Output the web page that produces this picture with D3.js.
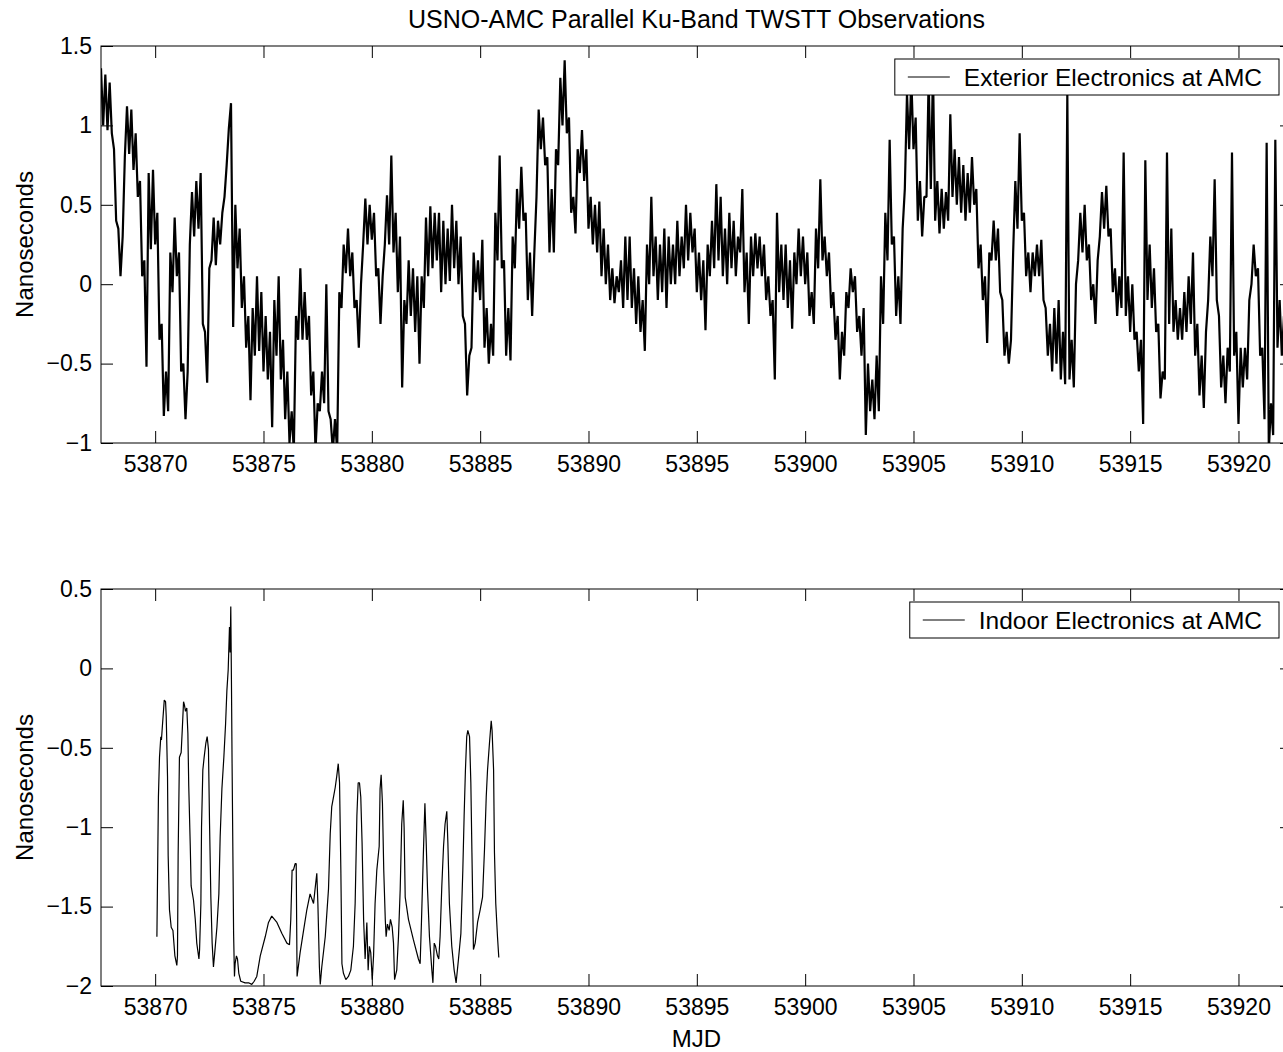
<!DOCTYPE html>
<html>
<head>
<meta charset="utf-8">
<script src="https://cdn.jsdelivr.net/npm/d3@7"></script>
<style>
  body { margin: 0; background: #fff; }
  text { font-family: "Liberation Sans", Arial, Helvetica, sans-serif; fill: #000; }
</style>
</head>
<body>
<div id="chart"></div>
<script>
// Chart data
//================================
var title = "USNO-AMC Parallel Ku-Band TWSTT Observations";
var xLabel = "MJD";
var yLabel = "Nanoseconds";
var xDomain = [53867.5, 53922.47];
var xTicks = [53870, 53875, 53880, 53885, 53890, 53895, 53900, 53905, 53910, 53915, 53920];

var exteriorName = "Exterior Electronics at AMC";
var exteriorDomain = [-1, 1.5];
var exteriorTicks = [-1, -0.5, 0, 0.5, 1, 1.5];
// one row per day, samples every 0.1 day (.0 ... .9)
var exteriorFirstDay = 53867;
var exteriorNs = [
  [null, null, null, null, null, 1.36, 1.00, 1.32, 0.97, 1.27],
  [0.95, 0.85, 0.40, 0.35, 0.05, 0.30, 0.80, 1.12, 0.82, 1.10],
  [0.72, 0.95, 0.55, 0.65, 0.05, 0.15, -0.52, 0.70, 0.22, 0.72],
  [0.25, 0.45, -0.35, -0.25, -0.83, -0.55, -0.80, 0.20, -0.05, 0.42],
  [0.05, 0.20, -0.55, -0.50, -0.85, -0.55, 0.25, 0.58, 0.30, 0.65],
  [0.35, 0.70, -0.25, -0.30, -0.62, 0.10, 0.15, 0.42, 0.12, 0.40],
  [0.25, 0.45, 0.55, 0.75, 0.98, 1.14, -0.27, 0.50, 0.10, 0.35],
  [-0.15, 0.05, -0.40, -0.20, -0.73, -0.15, -0.45, 0.05, -0.42, -0.05],
  [-0.55, -0.20, -0.60, -0.30, -0.90, -0.10, -0.45, 0.05, -0.60, -0.35],
  [-0.85, -0.55, -1.00, -0.80, -1.05, -0.20, -0.35, 0.10, -0.35, -0.05],
  [-0.35, -0.20, -0.70, -0.55, -1.05, -0.75, -0.80, -0.55, -0.75, 0.00],
  [-0.80, -0.85, -1.05, -0.85, -1.05, -0.05, -0.15, 0.25, 0.07, 0.35],
  [0.05, 0.20, -0.15, -0.10, -0.40, 0.00, 0.25, 0.54, 0.25, 0.50],
  [0.28, 0.45, 0.05, 0.10, -0.25, 0.05, 0.25, 0.56, 0.25, 0.81],
  [0.20, 0.45, -0.05, 0.30, -0.65, -0.10, -0.25, 0.15, -0.20, 0.10],
  [-0.30, 0.05, -0.50, 0.05, -0.15, 0.42, 0.05, 0.49, 0.10, 0.45],
  [0.15, 0.45, -0.05, 0.40, 0.00, 0.35, 0.02, 0.50, 0.10, 0.40],
  [0.00, 0.30, -0.20, -0.25, -0.70, -0.45, -0.40, 0.20, -0.05, 0.15],
  [-0.10, 0.28, -0.40, -0.15, -0.50, -0.25, -0.45, 0.45, 0.15, 0.81],
  [0.10, 0.15, -0.45, -0.15, -0.48, 0.30, 0.10, 0.60, 0.35, 0.74],
  [0.40, 0.45, -0.10, 0.20, -0.20, 0.20, 0.55, 1.10, 0.85, 1.05],
  [0.75, 0.80, 0.20, 0.60, 0.20, 0.85, 0.75, 1.30, 1.00, 1.41],
  [0.95, 1.05, 0.45, 0.55, 0.32, 0.85, 0.70, 0.97, 0.65, 0.85],
  [0.35, 0.55, 0.25, 0.50, 0.20, 0.52, 0.05, 0.35, 0.00, 0.25],
  [-0.10, 0.10, -0.12, 0.05, -0.05, 0.15, -0.15, 0.30, -0.10, 0.30],
  [-0.15, 0.10, -0.25, 0.05, -0.30, -0.10, -0.42, 0.25, 0.00, 0.55],
  [0.05, 0.30, -0.10, 0.25, -0.05, 0.35, -0.15, 0.30, 0.00, 0.25],
  [0.00, 0.40, 0.05, 0.30, 0.10, 0.50, 0.15, 0.45, 0.20, 0.35],
  [-0.05, 0.20, -0.10, 0.15, -0.29, 0.25, 0.05, 0.40, 0.10, 0.63],
  [0.15, 0.55, 0.05, 0.35, 0.00, 0.45, 0.10, 0.40, 0.05, 0.30],
  [0.20, 0.60, -0.05, 0.20, -0.25, 0.30, 0.05, 0.32, 0.10, 0.30],
  [0.05, 0.25, -0.10, 0.05, -0.20, -0.10, -0.60, 0.45, -0.05, 0.25],
  [-0.10, 0.25, -0.15, 0.15, -0.28, 0.20, 0.00, 0.35, 0.05, 0.30],
  [0.00, 0.20, -0.20, -0.05, -0.25, 0.35, 0.10, 0.66, 0.15, 0.30],
  [0.05, 0.20, -0.15, -0.05, -0.35, -0.20, -0.60, -0.30, -0.45, -0.05],
  [-0.15, 0.10, -0.05, 0.05, -0.30, -0.20, -0.45, -0.15, -0.95, -0.50],
  [-0.80, -0.60, -0.85, -0.45, -0.80, 0.05, -0.25, 0.45, 0.15, 0.91],
  [0.25, 0.30, -0.20, 0.05, -0.25, 0.35, 0.60, 1.20, 0.85, 1.30],
  [0.85, 1.05, 0.40, 0.65, 0.30, 0.55, 0.55, 1.30, 0.60, 1.35],
  [0.40, 0.65, 0.32, 0.60, 0.35, 0.58, 0.40, 1.07, 0.55, 0.85],
  [0.50, 0.80, 0.45, 0.75, 0.40, 0.70, 0.45, 0.80, 0.50, 0.60],
  [0.10, 0.25, -0.10, 0.05, -0.37, 0.20, 0.15, 0.40, 0.15, 0.35],
  [-0.05, -0.10, -0.45, -0.30, -0.50, -0.35, 0.20, 0.65, 0.35, 0.95],
  [0.40, 0.45, 0.05, 0.20, -0.05, 0.20, 0.05, 0.25, 0.05, 0.28],
  [-0.10, -0.15, -0.45, -0.25, -0.55, -0.15, -0.50, -0.10, -0.60, -0.30],
  [-0.63, 1.20, -0.60, -0.35, -0.65, 0.00, 0.15, 0.45, 0.20, 0.50],
  [0.15, 0.25, -0.10, 0.00, -0.25, 0.15, 0.30, 0.58, 0.35, 0.62],
  [0.30, 0.35, -0.05, 0.10, -0.20, 0.05, -0.15, 0.83, -0.20, 0.05],
  [-0.30, 0.00, -0.35, -0.30, -0.55, -0.35, -0.88, 0.78, -0.10, 0.25],
  [-0.15, 0.10, -0.30, -0.25, -0.72, -0.55, -0.60, 0.83, -0.25, 0.35],
  [-0.30, -0.10, -0.35, -0.15, -0.35, -0.05, -0.30, 0.05, -0.25, 0.20],
  [-0.45, -0.25, -0.70, -0.45, -0.78, -0.30, -0.10, 0.30, 0.05, 0.66],
  [-0.10, -0.20, -0.65, -0.45, -0.75, -0.40, -0.55, 0.83, -0.45, -0.30],
  [-0.88, -0.40, -0.65, -0.40, -0.60, -0.10, 0.00, 0.25, 0.05, 0.10],
  [-0.45, -0.40, -0.85, 0.89, -1.05, -0.75, -0.95, 0.91, -0.40, -0.10],
  [-0.45, -0.20, -0.50, -0.25, -0.40, -0.30, null, null, null, null]
];

var indoorName = "Indoor Electronics at AMC";
var indoorDomain = [-2, 0.5];
var indoorTicks = [-2, -1.5, -1, -0.5, 0, 0.5];
var indoorMjd = [
  53870.08, 53870.11, 53870.15, 53870.20, 53870.26, 53870.29, 53870.34, 53870.42, 53870.48, 53870.51,
  53870.57, 53870.60, 53870.66, 53870.74, 53870.82, 53870.91, 53871.00, 53871.03, 53871.06, 53871.12,
  53871.20, 53871.25, 53871.31, 53871.35, 53871.40, 53871.46, 53871.51, 53871.55, 53871.62, 53871.66,
  53871.77, 53871.85, 53871.92, 53872.02, 53872.05, 53872.11, 53872.14, 53872.20, 53872.26, 53872.34,
  53872.40, 53872.46, 53872.51, 53872.57, 53872.63, 53872.69, 53872.75, 53872.85, 53872.94, 53873.00,
  53873.08, 53873.17, 53873.25, 53873.31, 53873.37, 53873.43, 53873.46, 53873.49, 53873.52, 53873.55,
  53873.62, 53873.66, 53873.69, 53873.75, 53873.80, 53873.86, 53873.95, 53874.15, 53874.31, 53874.46,
  53874.57, 53874.69, 53874.85, 53875.08, 53875.23, 53875.38, 53875.62, 53875.85, 53876.08, 53876.20,
  53876.26, 53876.32, 53876.38, 53876.46, 53876.51, 53876.55, 53876.69, 53876.85, 53877.00, 53877.15,
  53877.31, 53877.38, 53877.46, 53877.51, 53877.58, 53877.62, 53877.69, 53877.85, 53878.00, 53878.08,
  53878.15, 53878.23, 53878.31, 53878.38, 53878.45, 53878.51, 53878.57, 53878.62, 53878.69, 53878.80,
  53878.92, 53879.03, 53879.15, 53879.23, 53879.31, 53879.37, 53879.43, 53879.49, 53879.55, 53879.62,
  53879.69, 53879.77, 53879.83, 53879.89, 53879.95, 53880.02, 53880.08, 53880.15, 53880.23, 53880.34,
  53880.38, 53880.43, 53880.49, 53880.55, 53880.62, 53880.66, 53880.72, 53880.80, 53880.86, 53880.94,
  53881.00, 53881.05, 53881.15, 53881.23, 53881.31, 53881.38, 53881.45, 53881.49, 53881.54, 53881.69,
  53881.92, 53882.15, 53882.23, 53882.29, 53882.38, 53882.45, 53882.51, 53882.57, 53882.66, 53882.77,
  53882.82, 53882.88, 53882.94, 53883.03, 53883.09, 53883.15, 53883.23, 53883.31, 53883.38, 53883.46,
  53883.51, 53883.58, 53883.69, 53883.80, 53883.89, 53884.00, 53884.11, 53884.20, 53884.26, 53884.32,
  53884.38, 53884.43, 53884.51, 53884.57, 53884.62, 53884.69, 53884.77, 53884.88, 53885.00, 53885.11,
  53885.20, 53885.28, 53885.34, 53885.43, 53885.51, 53885.55, 53885.62, 53885.66, 53885.72, 53885.80,
  53885.86
];
var indoorNs = [
  -1.69, -1.31, -0.81, -0.56, -0.43, -0.45, -0.35, -0.20, -0.21, -0.30,
  -0.68, -1.18, -1.52, -1.63, -1.65, -1.81, -1.87, -1.81, -1.18, -0.56,
  -0.53, -0.39, -0.21, -0.23, -0.27, -0.25, -0.41, -0.74, -1.12, -1.37,
  -1.46, -1.58, -1.73, -1.83, -1.77, -1.48, -1.00, -0.64, -0.56, -0.47,
  -0.43, -0.51, -0.98, -1.44, -1.73, -1.88, -1.79, -1.63, -1.42, -1.06,
  -0.76, -0.56, -0.35, -0.14, -0.01, 0.26, 0.10, 0.39, -0.07, -0.60,
  -1.67, -1.94, -1.86, -1.81, -1.83, -1.92, -1.97, -1.98, -1.98, -1.99,
  -1.97, -1.94, -1.81, -1.69, -1.60, -1.56, -1.60, -1.67, -1.73, -1.74,
  -1.58, -1.27, -1.27, -1.23, -1.23, -1.94, -1.79, -1.65, -1.52, -1.42,
  -1.48, -1.39, -1.29, -1.48, -1.88, -1.99, -1.88, -1.69, -1.39, -1.04,
  -0.87, -0.81, -0.75, -0.68, -0.60, -0.72, -1.27, -1.86, -1.92, -1.96,
  -1.94, -1.90, -1.75, -1.48, -0.93, -0.72, -0.72, -0.81, -1.10, -1.58,
  -1.83, -1.60, -1.90, -1.75, -1.79, -1.96, -1.81, -1.48, -1.27, -1.12,
  -0.76, -0.67, -0.85, -1.27, -1.58, -1.69, -1.61, -1.65, -1.58, -1.63,
  -1.73, -1.96, -1.90, -1.69, -1.39, -0.98, -0.83, -1.00, -1.44, -1.58,
  -1.71, -1.83, -1.86, -1.60, -1.16, -0.85, -1.10, -1.39, -1.69, -1.90,
  -1.98, -1.73, -1.75, -1.81, -1.83, -1.69, -1.37, -1.12, -0.98, -0.90,
  -1.10, -1.48, -1.75, -1.90, -1.98, -1.83, -1.67, -1.27, -0.93, -0.64,
  -0.43, -0.39, -0.43, -0.72, -1.16, -1.77, -1.73, -1.60, -1.52, -1.44,
  -1.14, -0.81, -0.64, -0.47, -0.33, -0.39, -0.64, -1.16, -1.48, -1.69,
  -1.82
];

// Set up the chart area
//================================
var svgWidth = 1283;
var svgHeight = 1052;
var plotLeft = 101;
var plotRight = 1292;
var tickLen = 12;

var svg = d3.select("#chart")
  .append("svg")
  .attr("width", svgWidth)
  .attr("height", svgHeight)
  .style("display", "block")
  .style("background", "#fff");

var xScale = d3.scaleLinear()
  .domain(xDomain)
  .range([plotLeft, plotRight]);

var fmt = function(d) { return String(d).replace("-", "\u2212"); };

// exterior rows -> points
var exteriorData = [];
exteriorNs.forEach(function(row, r) {
  row.forEach(function(v, j) {
    if (v !== null) exteriorData.push({ mjd: exteriorFirstDay + r + j / 10, ns: v });
  });
});
var indoorData = indoorMjd.map(function(m, i) { return { mjd: m, ns: indoorNs[i] }; });

function drawPanel(cfg) {
  var yScale = d3.scaleLinear()
    .domain(cfg.domain)
    .range([cfg.bottom, cfg.top]);

  var g = svg.append("g");

  g.append("clipPath")
    .attr("id", cfg.id + "-clip")
    .append("rect")
    .attr("x", plotLeft)
    .attr("y", cfg.top)
    .attr("width", plotRight - plotLeft)
    .attr("height", cfg.bottom - cfg.top);

  // data line
  var line = d3.line()
    .x(function(d) { return xScale(d.mjd); })
    .y(function(d) { return yScale(d.ns); });

  g.append("path")
    .datum(cfg.data)
    .attr("clip-path", "url(#" + cfg.id + "-clip)")
    .attr("fill", "none")
    .attr("stroke", "#000")
    .attr("stroke-width", cfg.strokeWidth)
    .attr("stroke-linejoin", "bevel")
    .attr("d", line);

  // axes: ticks pointing inward on all four sides
  var bottomAxis = d3.axisBottom(xScale).tickValues(xTicks)
    .tickSizeInner(-tickLen).tickSizeOuter(0).tickPadding(13).tickFormat(d3.format("d"));
  var topAxis = d3.axisTop(xScale).tickValues(xTicks)
    .tickSizeInner(-tickLen).tickSizeOuter(0).tickFormat("");
  var leftAxis = d3.axisLeft(yScale).tickValues(cfg.ticks)
    .tickSizeInner(-tickLen).tickSizeOuter(0).tickPadding(9).tickFormat(fmt);
  var rightAxis = d3.axisRight(yScale).tickValues(cfg.ticks)
    .tickSizeInner(-tickLen).tickSizeOuter(0).tickFormat("");

  var axes = [
    g.append("g").attr("transform", "translate(0," + cfg.bottom + ")").call(bottomAxis),
    g.append("g").attr("transform", "translate(0," + cfg.top + ")").call(topAxis),
    g.append("g").attr("transform", "translate(" + plotLeft + ",0)").call(leftAxis),
    g.append("g").attr("transform", "translate(" + plotRight + ",0)").call(rightAxis)
  ];
  axes.forEach(function(a) {
    a.select(".domain").remove();
    a.selectAll("line").attr("stroke", "#000");
    a.selectAll("text")
      .style("font-family", "'Liberation Sans', Arial, Helvetica, sans-serif")
      .style("font-size", "23px")
      .attr("fill", "#000");
  });

  g.append("rect")
    .attr("x", plotLeft)
    .attr("y", cfg.top)
    .attr("width", plotRight - plotLeft)
    .attr("height", cfg.bottom - cfg.top)
    .attr("fill", "none")
    .attr("stroke", "#000")
    .attr("stroke-width", 1);

  // y axis label
  g.append("text")
    .attr("transform", "translate(25," + ((cfg.top + cfg.bottom) / 2) + ") rotate(-90)")
    .attr("text-anchor", "middle")
    .attr("dy", "0.35em")
    .style("font-size", "24px")
    .text(yLabel);

  // legend, upper right
  var legend = g.append("g");
  var legBox = legend.append("rect")
    .attr("fill", "#fff")
    .attr("stroke", "#000")
    .attr("stroke-width", 1);
  var legText = legend.append("text")
    .style("font-size", "24.5px")
    .attr("dy", "0.35em")
    .text(cfg.name);
  var boxRight = plotRight - 13;
  var boxTop = cfg.top + 13;
  var boxH = 36;
  var midY = boxTop + boxH / 2;
  var textEnd = boxRight - 17;
  var textStart = textEnd - legText.node().getComputedTextLength();
  var lineEnd = textStart - 14;
  var lineStart = lineEnd - 42;
  var boxLeft = lineStart - 13;
  legText.attr("x", textStart).attr("y", midY);
  legend.append("line")
    .attr("x1", lineStart).attr("x2", lineEnd)
    .attr("y1", midY).attr("y2", midY)
    .attr("stroke", "#000").attr("stroke-width", 1);
  legBox.attr("x", boxLeft).attr("y", boxTop)
    .attr("width", boxRight - boxLeft).attr("height", boxH);
}

drawPanel({ id: "exterior", top: 46, bottom: 443, domain: exteriorDomain, ticks: exteriorTicks,
  data: exteriorData, name: exteriorName, strokeWidth: 2.2 });
drawPanel({ id: "indoor", top: 589, bottom: 986, domain: indoorDomain, ticks: indoorTicks,
  data: indoorData, name: indoorName, strokeWidth: 1.2 });

// Title and x label
svg.append("text")
  .attr("x", (plotLeft + plotRight) / 2)
  .attr("y", 28)
  .attr("text-anchor", "middle")
  .style("font-size", "25px")
  .text(title);

svg.append("text")
  .attr("x", (plotLeft + plotRight) / 2)
  .attr("y", 1047)
  .attr("text-anchor", "middle")
  .style("font-size", "24px")
  .text(xLabel);
</script>
</body>
</html>
